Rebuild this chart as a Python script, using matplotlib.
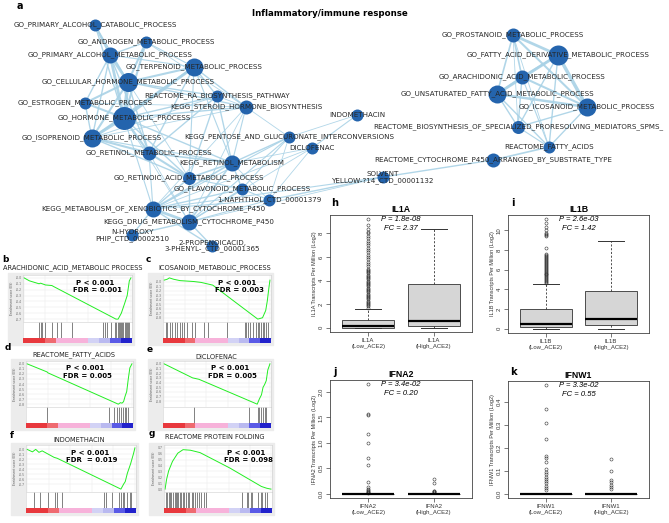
import numpy as np
import matplotlib
matplotlib.use("Agg")
import matplotlib.pyplot as plt
from matplotlib.patches import Rectangle

W, H = 669, 523

# ---------------- panel a: network ----------------
node_ids = ["PAC", "AND", "PAM", "TER", "CHM", "RA", "EST", "STE", "HOR", "ISO",
            "PEN", "DIC", "RET", "KRE", "RAC", "FLA", "NAP", "XEN", "DRU", "NHY",
            "PRO", "IND", "SOL",
            "PST", "FAD", "ARA", "UNS", "ICO", "SPM", "RFA", "CYP"]
node_labels = {
    "PAC": "GO_PRIMARY_ALCOHOL_CATABOLIC_PROCESS",
    "AND": "GO_ANDROGEN_METABOLIC_PROCESS",
    "PAM": "GO_PRIMARY_ALCOHOL_METABOLIC_PROCESS",
    "TER": "GO_TERPENOID_METABOLIC_PROCESS",
    "CHM": "GO_CELLULAR_HORMONE_METABOLIC_PROCESS",
    "RA": "REACTOME_RA_BIOSYNTHESIS_PATHWAY",
    "EST": "GO_ESTROGEN_METABOLIC_PROCESS",
    "STE": "KEGG_STEROID_HORMONE_BIOSYNTHESIS",
    "HOR": "GO_HORMONE_METABOLIC_PROCESS",
    "ISO": "GO_ISOPRENOID_METABOLIC_PROCESS",
    "PEN": "KEGG_PENTOSE_AND_GLUCURONATE_INTERCONVERSIONS",
    "DIC": "DICLOFENAC",
    "RET": "GO_RETINOL_METABOLIC_PROCESS",
    "KRE": "KEGG_RETINOL_METABOLISM",
    "RAC": "GO_RETINOIC_ACID_METABOLIC_PROCESS",
    "FLA": "GO_FLAVONOID_METABOLIC_PROCESS",
    "NAP": "1-NAPHTHOL_CTD_00001379",
    "XEN": "KEGG_METABOLISM_OF_XENOBIOTICS_BY_CYTOCHROME_P450",
    "DRU": "KEGG_DRUG_METABOLISM_CYTOCHROME_P450",
    "NHY": "N-HYDROXY\nPHIP_CTD_00002510",
    "PRO": "2-PROPENOICACID,\n3-PHENYL-_CTD_00001365",
    "IND": "INDOMETHACIN",
    "SOL": "SOLVENT\nYELLOW-?14_CTD_00001132",
    "PST": "GO_PROSTANOID_METABOLIC_PROCESS",
    "FAD": "GO_FATTY_ACID_DERIVATIVE_METABOLIC_PROCESS",
    "ARA": "GO_ARACHIDONIC_ACID_METABOLIC_PROCESS",
    "UNS": "GO_UNSATURATED_FATTY_ACID_METABOLIC_PROCESS",
    "ICO": "GO_ICOSANOID_METABOLIC_PROCESS",
    "SPM": "REACTOME_BIOSYNTHESIS_OF_SPECIALIZED_PRORESOLVING_MEDIATORS_SPMS_",
    "RFA": "REACTOME_FATTY_ACIDS",
    "CYP": "REACTOME_CYTOCHROME_P450_ARRANGED_BY_SUBSTRATE_TYPE",
}
node_size = {"PAC": 6, "AND": 6, "PAM": 8, "TER": 9, "CHM": 9.5, "RA": 6, "EST": 6,
             "STE": 7, "HOR": 11.5, "ISO": 9, "PEN": 6, "DIC": 6, "RET": 7, "KRE": 8,
             "RAC": 6.5, "FLA": 6, "NAP": 6, "XEN": 8, "DRU": 8, "NHY": 6, "PRO": 6,
             "IND": 6, "SOL": 6, "PST": 7, "FAD": 10, "ARA": 7, "UNS": 9, "ICO": 9,
             "SPM": 6.5, "RFA": 6, "CYP": 7}
edges = [
    ("PAC", "PAM", 1.5), ("PAC", "CHM", 1.0), ("PAC", "HOR", 1.0),
    ("AND", "PAM", 1.0), ("AND", "CHM", 1.5), ("AND", "HOR", 1.5), ("AND", "TER", 0.8),
    ("AND", "STE", 0.6), ("PAM", "CHM", 2.0), ("PAM", "HOR", 2.0), ("PAM", "EST", 1.0),
    ("PAM", "ISO", 1.0), ("PAM", "RET", 1.0), ("PAM", "TER", 0.8),
    ("TER", "CHM", 1.5), ("TER", "HOR", 2.0), ("TER", "ISO", 1.5), ("TER", "RA", 1.0),
    ("TER", "STE", 1.0), ("TER", "RET", 1.0), ("TER", "KRE", 0.8), ("TER", "RAC", 0.8),
    ("CHM", "HOR", 2.5), ("CHM", "EST", 1.5), ("CHM", "ISO", 1.5), ("CHM", "RET", 1.0),
    ("CHM", "STE", 1.0), ("CHM", "RA", 1.0), ("CHM", "RAC", 0.6),
    ("RA", "HOR", 1.0), ("RA", "KRE", 1.0), ("RA", "RAC", 1.0), ("RA", "RET", 1.0),
    ("RA", "ISO", 0.7), ("RA", "STE", 0.6),
    ("EST", "HOR", 1.5), ("EST", "ISO", 1.0), ("EST", "STE", 0.6),
    ("STE", "HOR", 1.0), ("STE", "KRE", 0.8), ("STE", "XEN", 0.6), ("STE", "DRU", 0.6),
    ("STE", "PEN", 0.6), ("STE", "ISO", 0.6),
    ("HOR", "ISO", 2.0), ("HOR", "RET", 1.5), ("HOR", "KRE", 1.0), ("HOR", "RAC", 1.0),
    ("HOR", "XEN", 0.8), ("HOR", "DRU", 0.6),
    ("ISO", "RET", 1.5), ("ISO", "KRE", 0.8), ("ISO", "RAC", 1.0),
    ("PEN", "KRE", 1.0), ("PEN", "XEN", 0.8), ("PEN", "DRU", 0.8), ("PEN", "FLA", 0.8),
    ("PEN", "IND", 0.6), ("PEN", "NAP", 0.6),
    ("DIC", "IND", 0.8), ("DIC", "KRE", 0.6), ("DIC", "XEN", 0.6), ("DIC", "DRU", 0.6),
    ("DIC", "NAP", 0.6),
    ("RET", "KRE", 1.2), ("RET", "RAC", 1.5), ("RET", "XEN", 0.8), ("RET", "DRU", 0.6),
    ("KRE", "RAC", 1.2), ("KRE", "FLA", 1.0), ("KRE", "XEN", 1.2), ("KRE", "DRU", 1.2),
    ("KRE", "NAP", 0.6), ("RAC", "XEN", 1.0), ("RAC", "DRU", 1.0), ("RAC", "FLA", 0.8),
    ("FLA", "XEN", 1.0), ("FLA", "DRU", 1.0), ("FLA", "NAP", 0.8),
    ("NAP", "XEN", 0.8), ("NAP", "DRU", 0.8), ("NAP", "SOL", 1.0),
    ("XEN", "DRU", 2.0), ("XEN", "NHY", 1.0), ("XEN", "PRO", 1.0), ("DRU", "NHY", 1.0),
    ("DRU", "PRO", 1.0), ("XEN", "SOL", 0.8), ("DRU", "SOL", 0.6), ("SOL", "CYP", 1.0),
    ("PST", "FAD", 2.0), ("PST", "ARA", 1.2), ("PST", "UNS", 1.2), ("PST", "ICO", 1.5),
    ("PST", "SPM", 0.6), ("PST", "RFA", 0.6),
    ("FAD", "ARA", 1.5), ("FAD", "UNS", 2.0), ("FAD", "ICO", 2.5), ("FAD", "SPM", 1.0),
    ("FAD", "RFA", 1.0), ("ARA", "UNS", 1.5), ("ARA", "ICO", 1.5), ("ARA", "SPM", 1.0),
    ("ARA", "RFA", 0.8), ("UNS", "ICO", 1.8), ("UNS", "SPM", 1.0), ("UNS", "RFA", 1.0),
    ("ICO", "SPM", 1.0), ("ICO", "RFA", 1.0), ("SPM", "RFA", 0.8), ("RFA", "CYP", 1.2),
]
# layout of the network, in pixels of the figure
layout = {"PAC": (95, 25), "AND": (146, 42), "PAM": (110, 55), "TER": (194, 67),
          "CHM": (128, 82), "RA": (217, 96), "EST": (85, 103), "STE": (246, 107),
          "HOR": (124, 118), "ISO": (92, 138), "PEN": (289, 137), "DIC": (312, 148),
          "RET": (149, 153), "KRE": (232, 163), "RAC": (189, 178), "FLA": (242, 189),
          "NAP": (269, 200), "XEN": (153, 209), "DRU": (189, 222), "NHY": (132, 235),
          "PRO": (212, 246), "IND": (357, 115), "SOL": (383, 177),
          "PST": (513, 35), "FAD": (558, 55), "ARA": (522, 77), "UNS": (497, 94),
          "ICO": (587, 107), "SPM": (518, 127), "RFA": (549, 147), "CYP": (493, 160)}

# ---------------- panels b-g: GSEA ----------------
gsea_titles = ["ARACHIDONIC_ACID_METABOLIC PROCESS", "ICOSANOID_METABOLIC_PROCESS",
               "REACTOME_FATTY_ACIDS", "DICLOFENAC", "INDOMETHACIN",
               "REACTOME PROTEIN FOLDING"]
gsea_p = ["P < 0.001"] * 6
gsea_fdr = ["FDR = 0.001", "FDR = 0.003", "FDR = 0.005", "FDR = 0.005",
            "FDR  = 0.019", "FDR = 0.098"]
gsea_rank = [
    [0, 0.05, 0.14, 0.155, 0.2, 0.26, 0.28, 0.86, 0.88, 0.91, 0.94, 0.965, 0.985, 1.0],
    [0, 0.03, 0.05, 0.09, 0.15, 0.28, 0.35, 0.46, 0.885, 0.93, 0.96, 0.975, 0.99, 1.0],
    [0, 0.19, 0.2, 0.87, 0.89, 0.905, 0.92, 0.935, 0.95, 0.965, 0.98, 1.0],
    [0, 0.27, 0.33, 0.88, 0.9, 0.92, 0.935, 0.95, 0.965, 0.98, 1.0],
    [0, 0.05, 0.08, 0.11, 0.14, 0.25, 0.28, 0.87, 0.895, 0.91, 0.93, 0.96, 0.985, 1.0],
    [0, 0.015, 0.034, 0.07, 0.12, 0.17, 0.24, 0.33, 0.61, 0.91, 0.96, 1.0],
]
gsea_es = [
    [0.0, -0.05, -0.1, -0.09, -0.12, -0.13, -0.15, -0.7, -0.7, -0.6, -0.44, -0.3, -0.05, 0.0],
    [0.03, 0.05, 0.08, 0.05, 0.02, 0.0, -0.02, -0.08, -0.83, -0.8, -0.64, -0.43, -0.14, 0.03],
    [0.0, -0.16, -0.18, -0.8, -0.77, -0.78, -0.75, -0.64, -0.55, -0.3, -0.08, 0.0],
    [0.0, -0.3, -0.33, -0.86, -0.75, -0.66, -0.5, -0.44, -0.36, -0.13, 0.0],
    [0.0, -0.05, 0.0, -0.06, -0.03, -0.16, -0.18, -0.8, -0.7, -0.65, -0.48, -0.29, -0.1, 0.03],
    [0.0, 0.17, 0.31, 0.47, 0.61, 0.67, 0.66, 0.62, 0.36, 0.045, 0.015, 0.0],
]
gsea_hits = [
    [0.14, 0.154, 0.17, 0.2, 0.26, 0.31, 0.35, 0.45, 0.74, 0.76, 0.78, 0.81, 0.85, 0.86,
     0.88, 0.89, 0.9, 0.91, 0.92, 0.93, 0.94, 0.95, 0.96, 0.97, 0.98],
    [0.016, 0.03, 0.056, 0.078, 0.1, 0.124, 0.146, 0.17, 0.193, 0.217, 0.264, 0.295,
     0.379, 0.419, 0.59, 0.761, 0.776, 0.792, 0.814, 0.839, 0.864, 0.885, 0.9, 0.916,
     0.932, 0.947, 0.963, 0.978],
    [0.19, 0.78, 0.83, 0.86, 0.88, 0.9, 0.91, 0.93, 0.94, 0.96],
    [0.28, 0.8, 0.885, 0.9, 0.916, 0.93, 0.95, 0.96],
    [0.06, 0.12, 0.19, 0.26, 0.28, 0.32, 0.71, 0.73, 0.79, 0.85, 0.87, 0.89, 0.9, 0.93,
     0.95, 0.96],
    [0.01, 0.02, 0.035, 0.05, 0.06, 0.075, 0.09, 0.1, 0.11, 0.125, 0.14, 0.15, 0.165,
     0.18, 0.2, 0.215, 0.23, 0.25, 0.26, 0.28, 0.3, 0.32, 0.34, 0.37, 0.39, 0.73, 0.77,
     0.78, 0.81, 0.82, 0.88, 0.91, 0.92, 0.94, 0.96],
]
gsea_ticks_min = [-0.7, -0.8, -0.8, -0.8, -0.7, 0.0]
gsea_ticks_max = [0.0, 0.0, 0.0, 0.0, 0.0, 0.7]
rank_colors = ["#e8383d", "#e8383d", "#ef6a70", "#f7b2da", "#f7b2da", "#f7b2da",
               "#d2d2f5", "#b9b9f0", "#5a5ae6", "#2222cc"]

# ---------------- panels h-k: boxplots ----------------
genes = ["IL1A", "IL1B", "IFNA2", "IFNW1"]
p_values = ["P = 1.8e-08", "P = 2.6e-03", "P = 3.4e-02", "P = 3.3e-02"]
fold_changes = ["FC = 2.37", "FC = 1.42", "FC = 0.20", "FC = 0.55"]
# q1, median, q3, lower whisker, upper whisker
low_stats = [(0.0, 0.1, 0.67, 0.0, 1.6), (0.15, 0.5, 1.95, 0.0, 4.5),
             (0.0, 0.0, 0.0, 0.0, 0.0), (0.0, 0.0, 0.0, 0.0, 0.0)]
high_stats = [(0.17, 0.6, 3.7, 0.0, 8.4), (0.35, 1.0, 3.85, 0.0, 8.9),
              (0.0, 0.0, 0.0, 0.0, 0.0), (0.0, 0.0, 0.0, 0.0, 0.0)]
low_out = [
    [1.7, 1.8, 1.9, 2.0, 2.1, 2.2, 2.3, 2.4, 2.5, 2.6, 2.7, 2.8, 2.9, 3.0, 3.1, 3.2,
     3.3, 3.4, 3.5, 3.6, 3.7, 3.8, 3.9, 4.0, 4.1, 4.2, 4.3, 4.4, 4.5, 4.6, 4.7, 4.8,
     4.9, 5.0, 5.2, 5.4, 5.6, 5.8, 6.0, 6.2, 6.4, 6.6, 6.8, 7.0, 7.2, 7.4, 7.6, 7.8,
     8.0, 8.1, 8.4, 8.7, 9.2],
    [4.6, 4.7, 4.8, 4.9, 5.0, 5.1, 5.2, 5.3, 5.4, 5.5, 5.6, 5.7, 5.8, 5.9, 6.0, 6.1,
     6.2, 6.3, 6.4, 6.5, 6.6, 6.7, 6.8, 6.9, 7.0, 7.1, 7.2, 7.3, 7.4, 7.5, 7.6, 8.2,
     9.4, 9.5, 9.6, 9.7, 10.0, 10.3, 10.7, 11.1],
    [2.15, 1.56, 1.55, 1.17, 1.0, 0.7, 0.56, 0.23, 0.13, 0.1, 0.07, 0.05, 0.04, 0.03,
     0.02],
    [0.474, 0.37, 0.31, 0.24, 0.165, 0.155, 0.14, 0.11, 0.095, 0.085, 0.075, 0.065,
     0.055, 0.045, 0.035, 0.025, 0.015],
]
high_out = [[], [], [0.29, 0.21, 0.06, 0.05, 0.04, 0.03],
            [0.15, 0.1, 0.06, 0.05, 0.04, 0.03, 0.02]]
box_yticks = [[0, 2, 4, 6, 8], [0, 2, 4, 6, 8, 10], [0, 0.5, 1.0, 1.5, 2.0],
              [0, 0.1, 0.2, 0.3, 0.4]]
box_tickfmt = ["{:.0f}", "{:.0f}", "{:.1f}", "{:.1f}"]


def px_rect(l, t, w, h):
    return [l / W, 1 - (t + h) / H, w / W, h / H]


fig = plt.figure(figsize=(W / 100, H / 100), dpi=100)

# ---- network ----
ax = fig.add_axes([0, 0, 1, 1], zorder=0)
ax.set_xlim(0, W)
ax.set_ylim(H, 0)
ax.axis("off")
for a, b, w in edges:
    (xa, ya), (xb, yb) = layout[a], layout[b]
    ax.plot([xa, xb], [ya, yb], color="#a9d2e6", lw=w, alpha=0.9, zorder=1)
for n in node_ids:
    x, y = layout[n]
    r = node_size[n]
    ax.scatter([x], [y], s=(2 * r * 0.72) ** 2, color="#2464ad", linewidths=0, zorder=2)
    ax.text(x, y, node_labels[n], ha="center", va="center", fontsize=5.1,
            color="#262626", zorder=3, linespacing=1.05)
ax.text(330, 13, "Inflammatory/immune response", ha="center", va="center",
        fontsize=6.2, fontweight="bold")
ax.text(20, 6, "a", ha="center", va="center", fontsize=7, fontweight="bold")

# ---- GSEA panels ----
gsea_geom = [  # left, top, width, curve height, title x, title y, letter x, letter y, text x
    (23, 275, 109, 47, 73, 268, 5, 259, 0.66),
    (163, 275, 108, 47, 215, 268, 148, 259, 0.69),
    (26, 361, 107, 46, 74, 355, 8, 348, 0.55),
    (163, 361, 108, 46, 216, 357, 150, 350, 0.62),
    (26, 445, 110, 47, 79, 440, 12, 435, 0.58),
    (164, 445, 108, 47, 215, 437, 152, 433, 0.76),
]
letters = "bcdefg"
for i in range(6):
    l, t, w, ch, tx, ty, lx, ly, px = gsea_geom[i]
    bh, cbh = 16, 5
    fig.add_artist(Rectangle(((l - 15) / W, 1 - (t + ch + bh + cbh + 2) / H),
                             (w + 17) / W, (ch + bh + cbh + 4) / H,
                             transform=fig.transFigure, color="#ececec", zorder=-1))
    ax.text(tx, ty, gsea_titles[i], ha="center", va="center", fontsize=4.8, color="#222")
    ax.text(lx, ly, letters[i], ha="center", va="center", fontsize=6.5, fontweight="bold")

    ca = fig.add_axes(px_rect(l, t, w, ch), zorder=1)
    rk, es = gsea_rank[i], gsea_es[i]
    ca.plot(rk, es, color="#22ee22", lw=0.7)
    lo, hi = min(es + [gsea_ticks_min[i]]), max(es + [gsea_ticks_max[i]])
    pad = 0.07 * (hi - lo)
    ca.set_ylim(lo - pad, hi + pad)
    ca.set_xlim(-0.01, 1.01)
    ticks = np.round(np.arange(gsea_ticks_min[i], gsea_ticks_max[i] + 0.05, 0.1), 1)
    ca.set_yticks(ticks)
    ca.set_yticklabels(["{:.1f}".format(v) for v in ticks])
    ca.set_xticks(np.linspace(0, 1, 6))
    ca.set_xticklabels([])
    ca.grid(True, color="#e6e6e6", lw=0.3)
    ca.tick_params(length=0, labelsize=2.2, labelcolor="#666", pad=1)
    for s in ca.spines.values():
        s.set_color("#cfcfcf")
        s.set_linewidth(0.4)
    ca.set_ylabel("Enrichment score (ES)", fontsize=2.2, color="#555", labelpad=1)
    ca.text(px, 0.84, gsea_p[i], transform=ca.transAxes, ha="center", va="center",
            fontsize=5, fontweight="bold")
    ca.text(px + 0.02, 0.68, gsea_fdr[i], transform=ca.transAxes, ha="center",
            va="center", fontsize=5, fontweight="bold")

    ba = fig.add_axes(px_rect(l, t + ch, w, bh), zorder=1)
    ba.vlines(gsea_hits[i], 0, 1, color="#222", lw=0.5, alpha=0.8)
    ba.set_xlim(-0.01, 1.01)
    ba.set_ylim(0, 1)
    ba.set_xticks([])
    ba.set_yticks([])
    for s in ba.spines.values():
        s.set_color("#cfcfcf")
        s.set_linewidth(0.4)

    ra = fig.add_axes(px_rect(l, t + ch + bh, w, cbh), zorder=1)
    ra.imshow([[matplotlib.colors.to_rgb(c) for c in rank_colors]], aspect="auto",
              extent=(0, 1, 0, 1))
    ra.set_xticks([])
    ra.set_yticks([])
    for s in ra.spines.values():
        s.set_visible(False)

# ---- boxplots ----
box_geom = [(330, 215, 142, 117, 335, 203), (508, 215, 141, 118, 513, 203),
            (330, 380, 142, 118, 335, 372), (508, 381, 141, 117, 513, 372)]
rfont = "Liberation Sans"
for i in range(4):
    l, t, w, h, lx, ly = box_geom[i]
    bx = fig.add_axes(px_rect(l, t, w, h), zorder=1)
    stats = []
    for st, out in ((low_stats[i], low_out[i]), (high_stats[i], high_out[i])):
        q1, med, q3, wlo, whi = st
        stats.append(dict(q1=q1, med=med, q3=q3, whislo=wlo, whishi=whi, fliers=out))
    bx.bxp(stats, positions=[1, 2], widths=0.8, patch_artist=True,
           boxprops=dict(facecolor="#d6d6d6", edgecolor="#333", lw=0.6),
           medianprops=dict(color="black", lw=1.6),
           whiskerprops=dict(color="#333", lw=0.6, linestyle=(0, (2.5, 2))),
           capprops=dict(color="#333", lw=0.7),
           flierprops=dict(marker="o", markersize=2.2, markerfacecolor="none",
                           markeredgecolor="#333", markeredgewidth=0.4))
    vals = [v for s in stats for v in (s["whishi"], s["q3"])] + low_out[i] + high_out[i]
    m = max(vals)
    bx.set_ylim(-0.04 * m, 1.04 * m)
    bx.set_xlim(0.42, 2.58)
    bx.set_yticks(box_yticks[i])
    bx.set_yticklabels([box_tickfmt[i].format(v) for v in box_yticks[i]], rotation=90,
                       va="center", fontfamily=rfont)
    bx.set_xticks([1, 2])
    bx.set_xticklabels([genes[i] + "\n(Low_ACE2)", genes[i] + "\n(High_ACE2)"],
                       fontfamily=rfont, linespacing=1.1)
    bx.tick_params(labelsize=4.3, labelcolor="#333", length=3, width=0.5,
                   color="#444", pad=1.5)
    for s in bx.spines.values():
        s.set_color("#444")
        s.set_linewidth(0.6)
    bx.set_ylabel(genes[i] + " Transcripts Per Million (Log2)", fontsize=4,
                  fontfamily=rfont, color="#333", labelpad=1)
    bx.set_title(genes[i], fontsize=6.3, fontweight="bold", fontfamily=rfont, pad=2)
    bx.annotate(p_values[i], (0.5, 1), xycoords="axes fraction", xytext=(0, -3.2),
                textcoords="offset points", ha="center", va="center", fontsize=5.5,
                fontstyle="italic", fontfamily=rfont)
    bx.annotate(fold_changes[i], (0.5, 1), xycoords="axes fraction", xytext=(0, -9.6),
                textcoords="offset points", ha="center", va="center", fontsize=5.5,
                fontstyle="italic", fontfamily=rfont)
    ax.text(lx, ly, "hijk"[i], ha="center", va="center", fontsize=7, fontweight="bold")

fig.savefig("out.png", dpi=100)
